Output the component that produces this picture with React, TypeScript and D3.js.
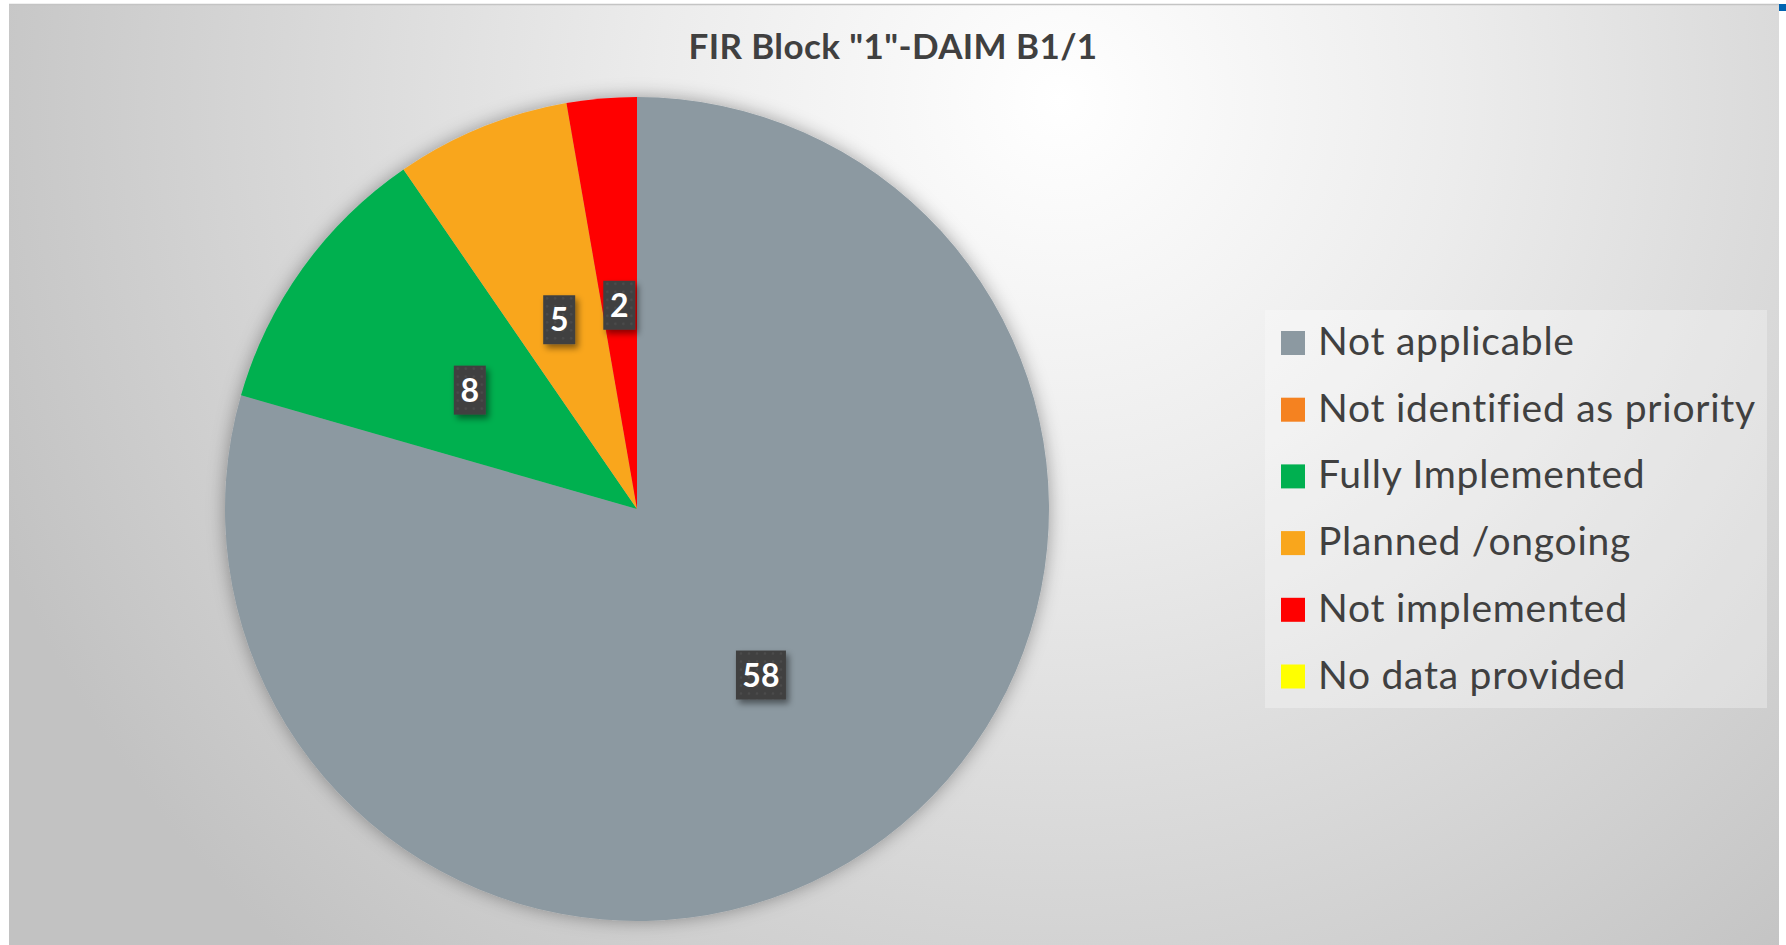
import { useEffect, useRef } from "react";
import * as d3 from "d3";

const categories = [
  "Not applicable",
  "Not identified as priority",
  "Fully Implemented",
  "Planned /ongoing",
  "Not implemented",
  "No data provided",
];
const counts = [58, 0, 8, 5, 2, 0];
const colors = ["#8C99A1", "#F58220", "#00B050", "#F9A61C", "#FF0000", "#FFFF00"];
const title = 'FIR Block "1"-DAIM B1/1';

const W = 1786;
const H = 945;

const App = () => {
  const svgRef = useRef<SVGSVGElement>(null);

  useEffect(() => {
    const root = d3.select(svgRef.current);
    root.selectAll("*").remove();
    root.attr("width", W).attr("height", H);

    const defs = root.append("defs");
    const grad = defs
      .append("radialGradient")
      .attr("id", "bg")
      .attr("gradientUnits", "userSpaceOnUse")
      .attr("cx", 1060)
      .attr("cy", 100)
      .attr("r", 1150);
    grad.append("stop").attr("offset", "0").attr("stop-color", "#ffffff");
    grad.append("stop").attr("offset", "0.35").attr("stop-color", "#ececec");
    grad.append("stop").attr("offset", "1").attr("stop-color", "#c2c2c2");

    const pieShadow = defs.append("filter").attr("id", "pieShadow")
      .attr("x", "-20%").attr("y", "-20%").attr("width", "140%").attr("height", "140%");
    pieShadow.append("feDropShadow")
      .attr("dx", 0).attr("dy", 0).attr("stdDeviation", 9)
      .attr("flood-color", "#000").attr("flood-opacity", 0.35);

    const boxShadow = defs.append("filter").attr("id", "boxShadow")
      .attr("x", "-30%").attr("y", "-30%").attr("width", "170%").attr("height", "170%");
    boxShadow.append("feDropShadow")
      .attr("dx", 3).attr("dy", 4).attr("stdDeviation", 3)
      .attr("flood-color", "#000").attr("flood-opacity", 0.45);

    const dots = defs.append("pattern").attr("id", "dots")
      .attr("patternUnits", "userSpaceOnUse").attr("width", 8).attr("height", 8);
    dots.append("rect").attr("width", 8).attr("height", 8).attr("fill", "#404040");
    dots.append("circle").attr("cx", 4).attr("cy", 4).attr("r", 1.3).attr("fill", "#4c4c4c");

    // chart area
    root.append("rect")
      .attr("x", 9).attr("y", 5).attr("width", 1770).attr("height", 940)
      .attr("fill", "url(#bg)");
    root.append("line")
      .attr("x1", 9).attr("x2", 1779).attr("y1", 4.5).attr("y2", 4.5)
      .attr("stroke", "#c4c4c4").attr("stroke-width", 1.5);
    root.append("rect")
      .attr("x", 1779).attr("y", 4).attr("width", 7).attr("height", 7)
      .attr("fill", "#0063b1");

    root.append("text")
      .attr("x", 893).attr("y", 59)
      .attr("text-anchor", "middle")
      .style("font-family", "Lato, 'Open Sans', sans-serif")
      .style("font-size", "35px")
      .style("font-weight", "bold")
      .style("letter-spacing", "0.4px")
      .attr("fill", "#404040")
      .text(title);

    // pie
    const cx = 637, cy = 509, r = 412;
    const items = categories.map((c, i) => ({ label: c, value: counts[i], color: colors[i] }));
    const pie = d3.pie<typeof items[0]>().sort(null).value(d => d.value);
    const arcs = pie(items);
    const arc = d3.arc<d3.PieArcDatum<typeof items[0]>>().innerRadius(0).outerRadius(r);

    const g = root.append("g").attr("transform", `translate(${cx},${cy})`);
    g.append("g")
      .attr("filter", "url(#pieShadow)")
      .selectAll("path")
      .data(arcs.filter(d => d.value > 0))
      .enter()
      .append("path")
      .attr("d", arc)
      .attr("fill", d => d.data.color);

    const lbl = g.selectAll(".lbl")
      .data(arcs.filter(d => d.value > 0))
      .enter()
      .append("g")
      .attr("class", "lbl")
      .attr("transform", d => `translate(${arc.centroid(d)})`);

    lbl.each(function (d) {
      const sel = d3.select(this);
      const w = String(d.value).length === 1 ? 32 : 50;
      sel.append("rect")
        .attr("x", -w / 2).attr("y", -23)
        .attr("width", w).attr("height", 49)
        .attr("fill", "url(#dots)")
        .attr("filter", "url(#boxShadow)");
      sel.append("text")
        .attr("text-anchor", "middle")
        .attr("y", 13)
        .style("font-family", "Lato, 'Open Sans', sans-serif")
        .style("font-size", "32px")
        .style("font-weight", "bold")
        .attr("fill", "#ffffff")
        .text(d.value);
    });

    // legend
    root.append("rect")
      .attr("x", 1265).attr("y", 310).attr("width", 502).attr("height", 398)
      .attr("fill", "#ffffff").attr("fill-opacity", 0.3);

    const y = d3.scaleBand().domain(categories).range([331 - 21.3, 331 - 21.3 + 66.7 * 6]);
    const leg = root.selectAll(".leg")
      .data(items)
      .enter()
      .append("g")
      .attr("class", "leg")
      .attr("transform", d => `translate(1281,${(y(d.label) as number) + 21.3})`);
    leg.append("rect").attr("width", 24).attr("height", 24).attr("fill", d => d.color);
    leg.append("text")
      .attr("x", 37).attr("y", 24)
      .style("font-family", "Lato, 'Open Sans', sans-serif")
      .style("font-size", "39px")
      .style("letter-spacing", "0.75px")
      .attr("fill", "#404040")
      .text(d => d.label);
  }, []);

  return (
    <div style={{ position: "absolute", left: 0, top: 0 }}>
      <svg ref={svgRef}></svg>
    </div>
  );
};

export default App;
